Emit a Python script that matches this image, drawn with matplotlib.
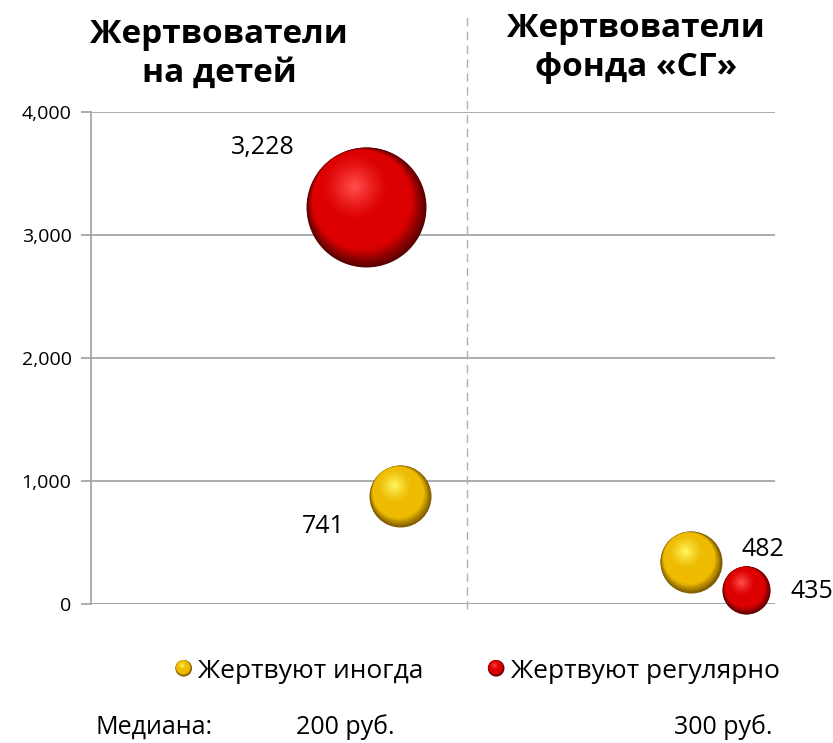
import numpy as np
import matplotlib
matplotlib.use("Agg")
import matplotlib.pyplot as plt
from matplotlib.transforms import ScaledTranslation
from matplotlib.colors import to_rgb
from matplotlib.legend_handler import HandlerBase
from matplotlib.patches import Circle

plt.rcParams['font.family'] = ['Open Sans', 'DejaVu Sans']

# ---- data ----
series_names = ["Жертвуют иногда", "Жертвуют регулярно"]
group_titles = ["Жертвователи\nна детей", "Жертвователи\nфонда «СГ»"]
x_sometimes = [4.52, 8.77]
y_sometimes = [878, 341]
size_sometimes = [1990, 1990]
label_sometimes = ["741", "482"]
x_regular = [4.02, 9.58]
y_regular = [3228, 114]
size_regular = [7460, 1200]
label_regular = ["3,228", "435"]
y_ticks = [0, 1000, 2000, 3000, 4000]
y_ticklabels = ["0", "1,000", "2,000", "3,000", "4,000"]
divider_x = 5.5
median_labels = ["Медиана:", "200 руб.", "300 руб."]

colors = {
    "yellow": dict(edge="#7a5600", base="#eebb00", high="#fff35a"),
    "red": dict(edge="#5a0000", base="#dc0000", high="#ff4848"),
}

fig = plt.figure(figsize=(8.33, 7.43), dpi=100)
ax = fig.add_axes([91/833, 1-604/743, (775-91)/833, (604-112)/743])
ax.set_xlim(0, 10)
ax.set_ylim(0, 4000)

# grid
ax.set_yticks(y_ticks)
ax.set_yticklabels(y_ticklabels, fontsize=14)
ax.yaxis.grid(True, color="#a6a6a6", lw=1.3)
ax.set_axisbelow(True)
ax.set_xticks([])
for s in ["top", "right", "bottom"]:
    ax.spines[s].set_visible(False)
ax.spines["left"].set_color("#a6a6a6")
ax.spines["left"].set_linewidth(1.3)
ax.tick_params(axis="y", length=7, width=1.3, color="#a6a6a6", pad=7)
ax.axhline(0, color="#a6a6a6", lw=1.8, zorder=1)

ax.axvline(divider_x, ymin=-0.01, ymax=1.193, clip_on=False,
           color="#b0b0b0", lw=1.0, ls=(0, (6, 4)), zorder=1)


def lerp(c1, c2, t):
    a = np.array(to_rgb(c1)); b = np.array(to_rgb(c2))
    return tuple(a + (b - a) * t)


def shade(pal, t):
    if t < 0.18:
        return lerp(pal["edge"], pal["base"], t / 0.18)
    if t < 0.45:
        return lerp(pal["base"], pal["base"], 0)
    return lerp(pal["base"], pal["high"], ((t - 0.45) / 0.55) ** 1.3)


UX, UY = -0.5, 0.85
UN = np.hypot(UX, UY)
UX, UY = UX / UN, UY / UN


def layer_geom(t):
    f = 1 - 0.95 * t
    d = min(0.85 * (1 - f), 0.4)
    return f, d * UX, d * UY


def sphere(xs, ys, sizes, pal, n=60):
    for i in range(n):
        t = i / (n - 1)
        f, ox, oy = layer_geom(t)
        col = shade(pal, t)
        for x, y, s in zip(xs, ys, sizes):
            r = np.sqrt(s) / 2  # points
            tr = ax.transData + ScaledTranslation(ox * r / 72, oy * r / 72,
                                                  fig.dpi_scale_trans)
            ax.scatter([x], [y], s=[s * f * f], color=[col], transform=tr,
                       linewidths=0, zorder=3 + i * 0.01, clip_on=False)


sphere(x_regular, y_regular, size_regular, colors["red"])
sphere(x_sometimes, y_sometimes, size_sometimes, colors["yellow"])

# data labels (offsets in points)
lab_fs = 18
ax.annotate(label_regular[0], (x_regular[0], y_regular[0]), xytext=(-74, 43),
            textcoords="offset points", ha="center", va="center", fontsize=lab_fs)
ax.annotate(label_sometimes[0], (x_sometimes[0], y_sometimes[0]), xytext=(-55, -22),
            textcoords="offset points", ha="center", va="center", fontsize=lab_fs)
ax.annotate(label_sometimes[1], (x_sometimes[1], y_sometimes[1]), xytext=(52, 9),
            textcoords="offset points", ha="center", va="center", fontsize=lab_fs)
ax.annotate(label_regular[1], (x_regular[1], y_regular[1]), xytext=(47, -1),
            textcoords="offset points", ha="center", va="center", fontsize=lab_fs,
            annotation_clip=False)

# titles
fig.text(219/833, 1-54/743, group_titles[0], ha="center", va="center",
         fontsize=24, fontweight="bold", linespacing=1.25)
fig.text(636/833, 1-48/743, group_titles[1], ha="center", va="center",
         fontsize=24, fontweight="bold", linespacing=1.25)


# legend with sphere markers
class SphereHandler(HandlerBase):
    def __init__(self, pal):
        super().__init__()
        self.pal = pal

    def create_artists(self, legend, orig_handle, xdescent, ydescent, width,
                       height, fontsize, trans):
        arts = []
        cx = width / 2 - xdescent
        cy = height / 2 - ydescent
        R = 6.0
        n = 16
        for i in range(n):
            t = i / (n - 1)
            f, ox, oy = layer_geom(t)
            c = Circle((cx + ox * R, cy + oy * R), R * f,
                       facecolor=shade(self.pal, t), edgecolor="none",
                       transform=trans)
            arts.append(c)
        return arts


h1 = object(); h2 = object()
leg = fig.legend([h1, h2], series_names,
                 handler_map={h1: SphereHandler(colors["yellow"]),
                              h2: SphereHandler(colors["red"])},
                 loc="center", bbox_to_anchor=(477/833, 1-671/743),
                 ncol=2, frameon=False, fontsize=19, handlelength=0.7,
                 handletextpad=0.2, columnspacing=2.4)

# median row
fig.text(95/833, 1-727/743, median_labels[0], ha="left", va="center", fontsize=18)
fig.text(345/833, 1-727/743, median_labels[1], ha="center", va="center", fontsize=18)
fig.text(772/833, 1-727/743, median_labels[2], ha="right", va="center", fontsize=18)

fig.savefig("out.png", dpi=100)
